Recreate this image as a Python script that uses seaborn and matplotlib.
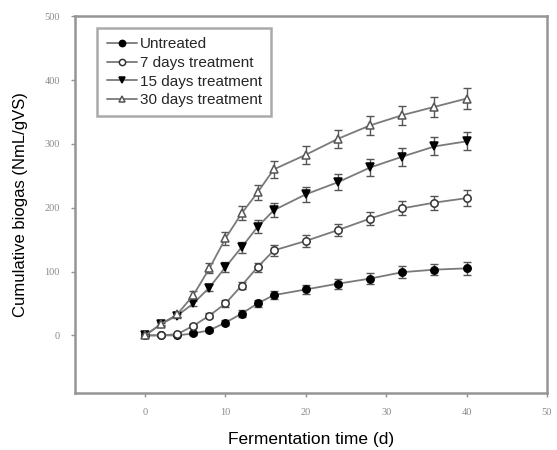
import numpy as np
import pandas as pd
import matplotlib
matplotlib.use("Agg")
import matplotlib.pyplot as plt
import seaborn as sns

days = [0, 2, 4, 6, 8, 10, 12, 14, 16, 20, 24, 28, 32, 36, 40]
untreated = [0, 0, 0, 3, 8, 20, 34, 50, 63, 72, 81, 89, 99, 103, 105]
treat7 = [0, 0, 2, 15, 31, 50, 78, 107, 133, 148, 165, 183, 199, 208, 215]
treat15 = [0, 18, 31, 50, 75, 107, 138, 170, 196, 221, 240, 263, 280, 296, 304]
treat30 = [0, 18, 33, 63, 105, 152, 191, 224, 260, 283, 308, 329, 345, 358, 371]
err_untreated = [0, 0, 0, 2, 3, 4, 5, 6, 6, 7, 8, 8, 9, 9, 10]
err_7 = [0, 0, 0, 3, 4, 5, 6, 7, 8, 9, 10, 10, 11, 11, 12]
err_15 = [0, 2, 3, 4, 6, 8, 9, 10, 11, 12, 13, 13, 14, 14, 14]
err_30 = [0, 3, 4, 6, 8, 10, 11, 12, 13, 14, 14, 15, 15, 16, 17]
labels = ["Untreated", "7 days treatment", "15 days treatment", "30 days treatment"]
xticks = [0, 10, 20, 30, 40, 50]
yticks = [0, 100, 200, 300, 400, 500]

series = [untreated, treat7, treat15, treat30]
errs = [err_untreated, err_7, err_15, err_30]
df = pd.concat([pd.DataFrame({"day": days, "biogas": s, "err": e, "group": lab})
                for s, e, lab in zip(series, errs, labels)], ignore_index=True)

sns.set_style("white")
plt.rcParams["font.family"] = ["Liberation Sans", "DejaVu Sans"]

fig = plt.figure(figsize=(5.57, 4.5), dpi=100)
ax = fig.add_axes([0.135, 0.127, 0.847, 0.837])

styles = {
    "Untreated": dict(marker="o", mfc="black", mec="black"),
    "7 days treatment": dict(marker="o", mfc="white", mec="#333333"),
    "15 days treatment": dict(marker="v", mfc="black", mec="black"),
    "30 days treatment": dict(marker="^", mfc="white", mec="#555555"),
}
line_col = "#7a7a7a"
for lab in labels:
    sub = df[df["group"] == lab]
    ax.errorbar(sub["day"], sub["biogas"], yerr=sub["err"], fmt="none",
                ecolor="#555555", elinewidth=1.0, capsize=3, capthick=1.0, zorder=2)
    st = styles[lab]
    sns.lineplot(data=sub, x="day", y="biogas", ax=ax, color=line_col, lw=1.3,
                 marker=st["marker"], markersize=5.3, markerfacecolor=st["mfc"],
                 markeredgecolor=st["mec"], markeredgewidth=1.1, label=lab, zorder=3)

ax.set_xlim(-8.7, 50)
ax.set_ylim(-90, 500)
ax.set_xticks(xticks)
ax.set_yticks(yticks)
ax.tick_params(axis="both", which="both", direction="out", length=3, width=1,
               color="#909090", labelcolor="#8a8a8a", labelsize=7.5, pad=8,
               bottom=True, left=True)
for lab in ax.get_xticklabels() + ax.get_yticklabels():
    lab.set_family(["Liberation Serif", "DejaVu Serif"])
for sp in ax.spines.values():
    sp.set_color("#959595")
    sp.set_linewidth(1.8)

ax.set_xlabel("Fermentation time (d)", fontsize=12.5, color="black", labelpad=11)
ax.set_ylabel("Cumulative biogas (NmL/gVS)", fontsize=12, color="black", labelpad=12)

leg = ax.legend(loc="upper left", bbox_to_anchor=(0.047, 0.968), fontsize=11,
                frameon=True, fancybox=False, handlelength=2.0, handletextpad=0.2,
                labelspacing=0.3, borderpad=0.6, borderaxespad=0, markerscale=0.85)
leg.get_frame().set_edgecolor("#959595")
leg.get_frame().set_linewidth(1.8)

fig.savefig("out.png", dpi=100)
